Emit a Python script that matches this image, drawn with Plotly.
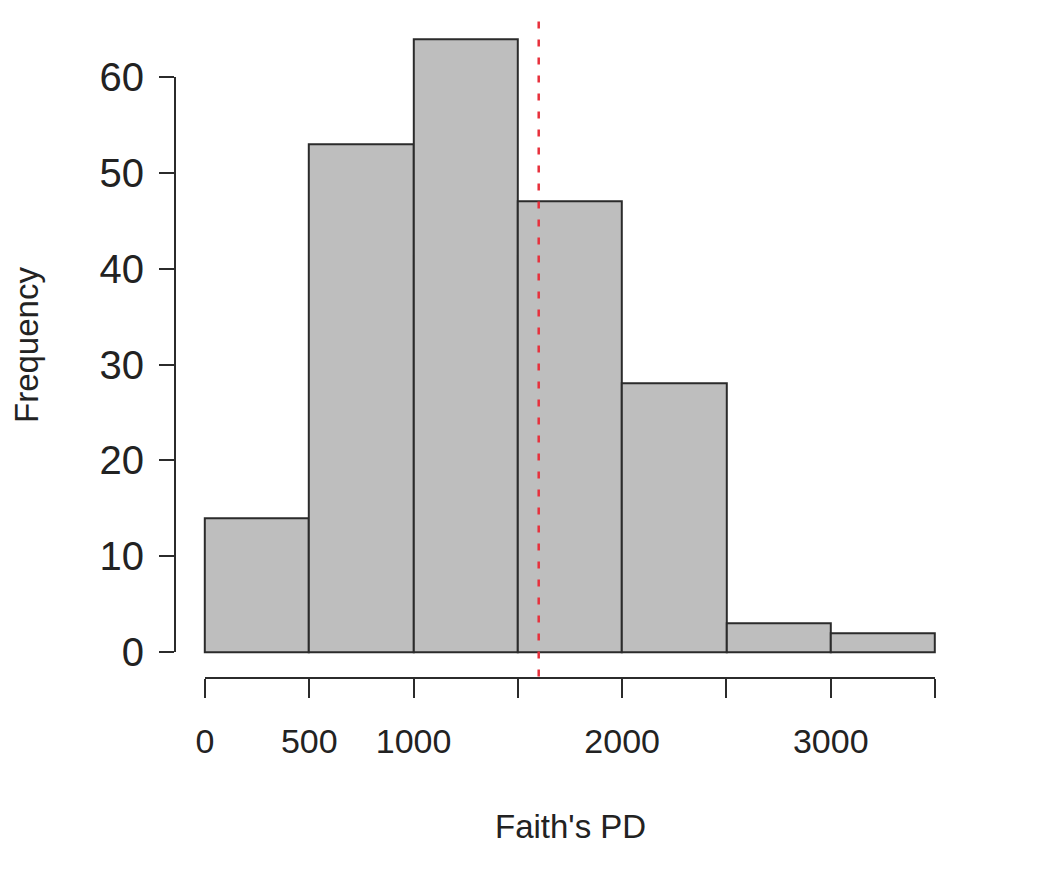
import plotly.graph_objects as go

# Histogram of Faith's phylogenetic diversity
bin_starts = [0, 500, 1000, 1500, 2000, 2500, 3000]
bin_width = 500
counts = [14, 53, 64, 47, 28, 3, 2]
mean_pd = 1600

x_ticks = [0, 500, 1000, 1500, 2000, 2500, 3000, 3500]
x_tick_text = ["0", "500", "1000", "", "2000", "", "3000", ""]
y_ticks = [0, 10, 20, 30, 40, 50, 60]

W, H = 1039, 884
FONT = "Liberation Sans, Arial, sans-serif"
INK = "#2b2b2b"

# plotting region (R-style 4% padding on both axes)
x_lo, x_hi = -140, 3640
y_lo, y_hi = -2.56, 66.56
xdom = [175.8 / W, 964.2 / W]
ydom = [1 - 676.5 / H, 1 - 14.2 / H]


def ydom_at(v):
    return ydom[0] + (v - y_lo) / (y_hi - y_lo) * (ydom[1] - ydom[0])


def xdom_at(v):
    return xdom[0] + (v - x_lo) / (x_hi - x_lo) * (xdom[1] - xdom[0])


centers = [s + bin_width / 2 for s in bin_starts]

fig = go.Figure()
fig.add_trace(go.Bar(
    x=centers, y=counts, width=[bin_width] * len(counts),
    marker=dict(color="#bebebe", line=dict(color=INK, width=2)),
    hoverinfo="skip", showlegend=False,
))
# carrier trace for the offset axes
fig.add_trace(go.Scatter(
    x=[None], y=[None], xaxis="x2", yaxis="y2",
    mode="markers", hoverinfo="skip", showlegend=False,
))

fig.add_vline(x=mean_pd, line=dict(color="#e8303c", width=2.5, dash="7px,11px"))

fig.update_layout(
    width=W, height=H,
    margin=dict(l=0, r=0, t=0, b=0),
    paper_bgcolor="white", plot_bgcolor="rgba(0,0,0,0)",
    bargap=0,
    font=dict(family=FONT, color="#222222"),
    xaxis=dict(range=[x_lo, x_hi], domain=xdom, visible=False,
               showgrid=False, zeroline=False),
    yaxis=dict(range=[y_lo, y_hi], domain=ydom, visible=False,
               showgrid=False, zeroline=False),
    xaxis2=dict(
        range=[0, 3500], domain=[xdom_at(0), xdom_at(3500)],
        anchor="free", position=ydom[0] - 1.5 / H,
        showline=True, linecolor=INK, linewidth=2,
        ticks="outside", ticklen=19, tickwidth=2, tickcolor=INK,
        tickmode="array", tickvals=x_ticks, ticktext=x_tick_text,
        ticklabelstandoff=14,
        tickfont=dict(size=34, family=FONT, color="#222222"),
        showgrid=False, zeroline=False, automargin=False,
    ),
    yaxis2=dict(
        range=[0, 60], domain=[ydom_at(0), ydom_at(60)],
        anchor="free", position=xdom[0] - 0.8 / W,
        showline=True, linecolor=INK, linewidth=2,
        ticks="outside", ticklen=15, tickwidth=2, tickcolor=INK,
        tickmode="array", tickvals=y_ticks,
        ticklabelstandoff=7,
        tickfont=dict(size=40, family=FONT, color="#222222"),
        showgrid=False, zeroline=False, automargin=False,
    ),
    annotations=[
        dict(text="Faith's PD", xref="paper", yref="paper",
             x=570 / W, y=1 - 826 / H, xanchor="center", yanchor="middle",
             showarrow=False, font=dict(size=33, family=FONT, color="#222222")),
        dict(text="Frequency", xref="paper", yref="paper",
             x=27 / W, y=1 - 345 / H, xanchor="center", yanchor="middle",
             textangle=-90, showarrow=False,
             font=dict(size=33, family=FONT, color="#222222")),
    ],
)

fig.write_html("out.html")
